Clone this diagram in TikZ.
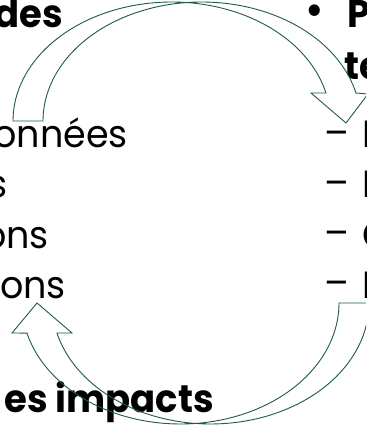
\documentclass[tikz,border=0pt]{standalone}
\usepackage{fontspec}
\setmainfont{Poppins}[FakeStretch=0.96]
\definecolor{arrowgreen}{RGB}{30,90,72}
\begin{document}
\begin{tikzpicture}[x=1pt,y=1pt,
  txt/.style={inner sep=0pt, font=\fontsize{38}{42}\selectfont},
  btxt/.style={inner sep=0pt, font=\fontsize{38.5}{42}\selectfont\bfseries},
  curvedarrow/.style={draw=arrowgreen, line width=0.9pt, line join=miter}]
\useasboundingbox (0,0) rectangle (366,-427);
\clip (0,0) rectangle (366,-427);
% left column
\node[btxt, anchor=base east] (des) at (63,-28) {des};
\node[txt, anchor=base east] (l1) at (128,-148) {onnées};
\node[txt, anchor=base east] (l2) at (8,-198) {s};
\node[txt, anchor=base east] (l3) at (49,-248) {ons};
\node[txt, anchor=base east] (l4) at (66,-298) {ons};
\node[btxt, anchor=base east] (imp) at (214,-412) {es impacts};
% right column
\node[btxt] (bul) at (315,-14) {•};
\node[btxt, anchor=base west] (ptx) at (347,-28) {P};
\node[btxt, anchor=base west] (te) at (344,-80) {te};
\node[txt] (d1) at (336.5,-139) {–};
\node[txt] (d2) at (336.5,-189) {–};
\node[txt] (d3) at (336.5,-239) {–};
\node[txt] (d4) at (336.5,-289) {–};
\node[txt, anchor=base west] (r1) at (362,-148) {I};
\node[txt, anchor=base west] (r2) at (362,-198) {I};
\node[txt, anchor=base west] (r3) at (362,-248) {C};
\node[txt, anchor=base west] (r4) at (362,-298) {I};
% top curved arrow
\draw[curvedarrow] plot[domain=180:13.6, samples=80] ({171.7+158.7*cos(\x)},{-121+119*sin(\x)})
  -- (311,-93) -- (346,-123) -- (368,-94) -- (356,-93)
  -- plot[domain=13.6:180, samples=80] ({201.7+158.7*cos(\x)},{-121+119*sin(\x)}) -- cycle;
% bottom curved arrow
\draw[curvedarrow] (37,-303) -- (72,-333) -- (57,-333)
  -- plot[domain=165.6:0, samples=80] ({210.5+158.5*cos(\x)},{-303-121*sin(\x)})
  -- (339,-303)
  -- plot[domain=0:165.6, samples=80] ({180.5+158.5*cos(\x)},{-303-121*sin(\x)})
  -- (12,-333) -- cycle;
\end{tikzpicture}
\end{document}
